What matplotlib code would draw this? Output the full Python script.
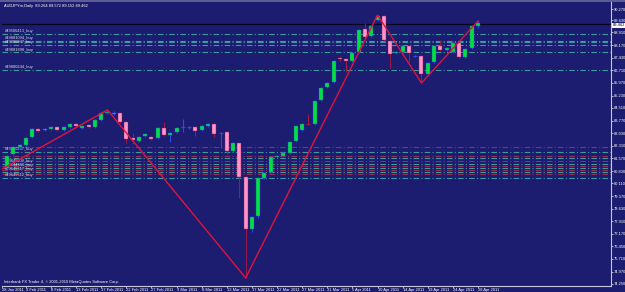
import matplotlib.pyplot as plt
import matplotlib.transforms as mtransforms

plt.rcParams['font.family'] = ['Liberation Sans', 'DejaVu Sans']

# daily AUDJPY candles, 31 Jan 2011 .. 28 Apr 2011 (bar index 0..75)
opens = [81.01, 81.80, 82.23, 82.35, 82.81, 83.28, 83.22, 83.28, 83.39, 83.22,
         83.39, 83.57, 83.34, 83.51, 83.39, 83.80, 84.21, 84.17, 84.21, 83.69,
         82.75, 82.58, 82.87, 82.81, 82.75, 83.34, 82.93, 83.10, 83.39, 83.38,
         83.39, 83.22, 83.45, 83.57, 83.03, 83.10, 82.00, 82.46, 80.48, 77.45,
         78.21, 80.42, 80.77, 81.65, 81.71, 81.88, 82.58, 83.22, 83.57, 83.57,
         84.97, 85.73, 86.02, 87.42, 87.36, 87.24, 87.76, 89.10, 88.70, 89.63,
         89.86, 88.41, 87.71, 87.76, 88.11, 87.52, 87.53, 86.48, 87.18, 88.11,
         87.88, 87.76, 88.29, 87.47, 88.00, 89.264]
highs = [81.76, 82.27, 82.38, 82.79, 83.32, 83.34, 83.31, 83.43, 83.44, 83.43,
         83.62, 83.60, 83.49, 83.55, 83.84, 84.26, 84.39, 84.30, 84.26, 83.73,
         83.05, 82.85, 83.03, 82.86, 83.38, 83.69, 83.09, 83.38, 83.86, 83.45,
         83.43, 83.49, 83.61, 83.62, 83.08, 83.14, 82.50, 82.50, 80.52, 78.19,
         80.46, 80.76, 81.69, 81.75, 81.92, 82.56, 83.49, 83.61, 84.15, 84.95,
         85.71, 86.00, 87.28, 87.53, 87.40, 87.75, 89.09, 89.45, 89.32, 89.92,
         89.90, 88.45, 87.80, 88.15, 88.15, 87.60, 87.57, 87.16, 88.15, 88.46,
         88.04, 88.33, 88.33, 87.98, 89.32, 89.572]
lows = [80.95, 81.76, 82.18, 82.31, 82.76, 83.12, 83.17, 83.24, 83.18, 83.18,
        83.35, 83.42, 83.30, 83.35, 83.35, 83.76, 84.16, 84.10, 83.64, 82.46,
        82.40, 82.54, 82.83, 82.66, 82.71, 82.89, 82.52, 83.06, 83.10, 83.30,
        82.87, 83.18, 83.41, 82.81, 82.17, 81.82, 81.96, 79.26, 74.60, 77.30,
        78.10, 80.38, 80.73, 81.61, 81.67, 81.84, 82.54, 83.18, 83.50, 83.53,
        84.93, 85.69, 85.98, 87.24, 86.60, 87.20, 87.72, 88.60, 88.66, 89.58,
        88.42, 86.83, 87.67, 87.72, 87.18, 87.45, 85.96, 86.44, 87.14, 87.84,
        87.84, 87.72, 87.43, 87.43, 87.96, 89.152]
closes = [81.71, 82.23, 82.35, 82.75, 83.28, 83.16, 83.28, 83.39, 83.22, 83.39,
          83.57, 83.47, 83.45, 83.39, 83.80, 84.21, 84.25, 84.22, 83.69, 82.70,
          82.64, 82.81, 82.99, 82.70, 83.34, 82.93, 83.05, 83.34, 83.40, 83.40,
          83.16, 83.45, 83.57, 82.99, 83.05, 82.00, 82.46, 80.48, 77.45, 78.15,
          80.42, 80.72, 81.65, 81.71, 81.88, 82.52, 83.45, 83.57, 83.55, 84.91,
          85.67, 85.96, 87.24, 87.36, 87.24, 87.71, 89.05, 88.64, 89.28, 89.86,
          88.46, 87.65, 87.76, 88.11, 87.71, 87.53, 86.48, 87.12, 88.11, 87.88,
          88.00, 88.29, 87.47, 87.94, 89.28, 89.462]

# zigzag turning points (bar index, price)
zz_bar = [-1, 16, 38, 59, 66, 75]
zz_price = [80.90, 84.39, 74.60, 89.92, 85.96, 89.572]

# order lines
buy_lines = [88.81, 88.43, 88.32, 88.20, 87.74, 86.72,
             81.94, 81.59, 81.24, 81.01, 80.77, 80.42]
buy_labels = ["#49506413_buy", "#49881094_buy", "", "#49880947_buy", "#49881898_buy", "#49880244_buy",
              "#49640257_buy", "", "#49645009_buy", "#49644866_buy", "#49645317_buy", "#49645512_buy"]
stop_lines = [82.23, 81.71, 81.41, 81.12, 80.89, 80.66]
bid_line = 89.40

price_ticks = [74.25, 74.97, 75.71, 76.45, 77.17, 77.91, 78.63, 79.37, 80.11, 80.83, 81.57, 82.31,
               83.03, 83.77, 84.51, 85.23, 85.97, 86.71, 87.43, 88.17, 88.91, 89.63, 90.27]
date_bars = [-0.8, 3, 7, 11, 15, 19, 23, 27, 31, 35, 39, 43, 47, 51, 55, 59, 63, 67, 71, 75]
date_labels = ["28 Jan 2011", "3 Feb 2011", "8 Feb 2011", "13 Feb 2011", "17 Feb 2011",
               "22 Feb 2011", "27 Feb 2011", "3 Mar 2011", "8 Mar 2011", "13 Mar 2011",
               "17 Mar 2011", "22 Mar 2011", "27 Mar 2011", "31 Mar 2011", "5 Apr 2011",
               "10 Apr 2011", "14 Apr 2011", "19 Apr 2011", "24 Apr 2011", "28 Apr 2011"]

bg = "#1c1c70"
bull_body, bear_body = "#00e23a", "#ff96d0"
bull_wick, bear_wick = "#2f46e8", "#9a1a48"
fs = 2.9

W, H = 625, 292
fig = plt.figure(figsize=(W / 100, H / 100), dpi=100, facecolor=bg)
ax = fig.add_axes([2 / W, 6 / H, 609 / W, 284 / H], facecolor=bg)
ax.set_xlim(-0.796, 96.18)
ax.set_ylim(74.13, 90.68)
mixed = mtransforms.blended_transform_factory(ax.transAxes, ax.transData)

# order lines + labels
for p, lab in zip(buy_lines, buy_labels):
    ax.axhline(p, color="#3f9aa0", lw=0.8, ls=(0, (5, 2, 1, 2)), zorder=1)
    if lab:
        ax.text(0.005, p + 0.04, lab, transform=mixed,
                fontsize=fs, color="#d8d8e8", va="bottom", ha="left", zorder=2)
for p in stop_lines:
    ax.axhline(p, color="#9c2a5c", lw=0.8, ls=(0, (5, 2, 1, 2)), zorder=1)
ax.axhline(bid_line, color="#05051e", lw=0.9, zorder=1)

# candles
for i in range(len(opens)):
    o, h, l, c = opens[i], highs[i], lows[i], closes[i]
    up = c >= o
    wick = bull_wick if up else bear_wick
    ax.vlines(i, l, h, color=wick, lw=0.8, zorder=3)
    if abs(c - o) < 0.03:
        ax.hlines(o, i - 0.32, i + 0.32, color=wick, lw=0.9, zorder=4)
    else:
        ax.bar(i, abs(c - o), bottom=min(o, c), width=0.64,
               color=bull_body if up else bear_body, edgecolor=wick, linewidth=0.3, zorder=4)

# zigzag
ax.plot(zz_bar, zz_price, color="#e0143c", lw=1.0, zorder=5)

# axes styling
for s in ["top", "left"]:
    ax.spines[s].set_visible(False)
for s in ["right", "bottom"]:
    ax.spines[s].set_color("#c8c8dc")
    ax.spines[s].set_linewidth(0.8)
ax.yaxis.tick_right()
ax.set_yticks(price_ticks, [f"{v:.3f}" for v in price_ticks])
ax.tick_params(axis="y", colors="#c8c8dc", labelcolor="white", labelsize=fs, length=1.5, width=0.6, pad=0.8)
ax.set_xticks(date_bars, date_labels)
ax.tick_params(axis="x", colors="#c8c8dc", labelcolor="white", labelsize=fs, length=1.5, width=0.6, pad=0.2)
for t in ax.get_xticklabels():
    t.set_ha("left")

# current price box, sitting on the bid line just under the 89.630 label
box_tr = mixed + mtransforms.ScaledTranslation(0, -2.5 / 100, fig.dpi_scale_trans)
ax.text(1.003, closes[-1], f"{closes[-1]:.3f}", transform=box_tr,
        fontsize=fs, color="black", va="center", ha="left", zorder=6,
        bbox=dict(boxstyle="square,pad=0.15", fc="white", ec="none"), clip_on=False)

fig.text(4 / W, 1 - 6 / H, "AUDJPYm,Daily  89.264 89.572 89.152 89.462",
         fontsize=fs, color="white", va="center", ha="left")
fig.text(4 / W, 1 - 282 / H, "Interbank FX Trader 4, \u00a9 2001-2010 MetaQuotes Software Corp.",
         fontsize=fs, color="white", va="center", ha="left")
fig.add_artist(plt.Line2D([0, 1], [1 - 0.5 / H, 1 - 0.5 / H], color="#6a6aa0", lw=1.2))

fig.savefig("out.png", dpi=100, facecolor=bg)
